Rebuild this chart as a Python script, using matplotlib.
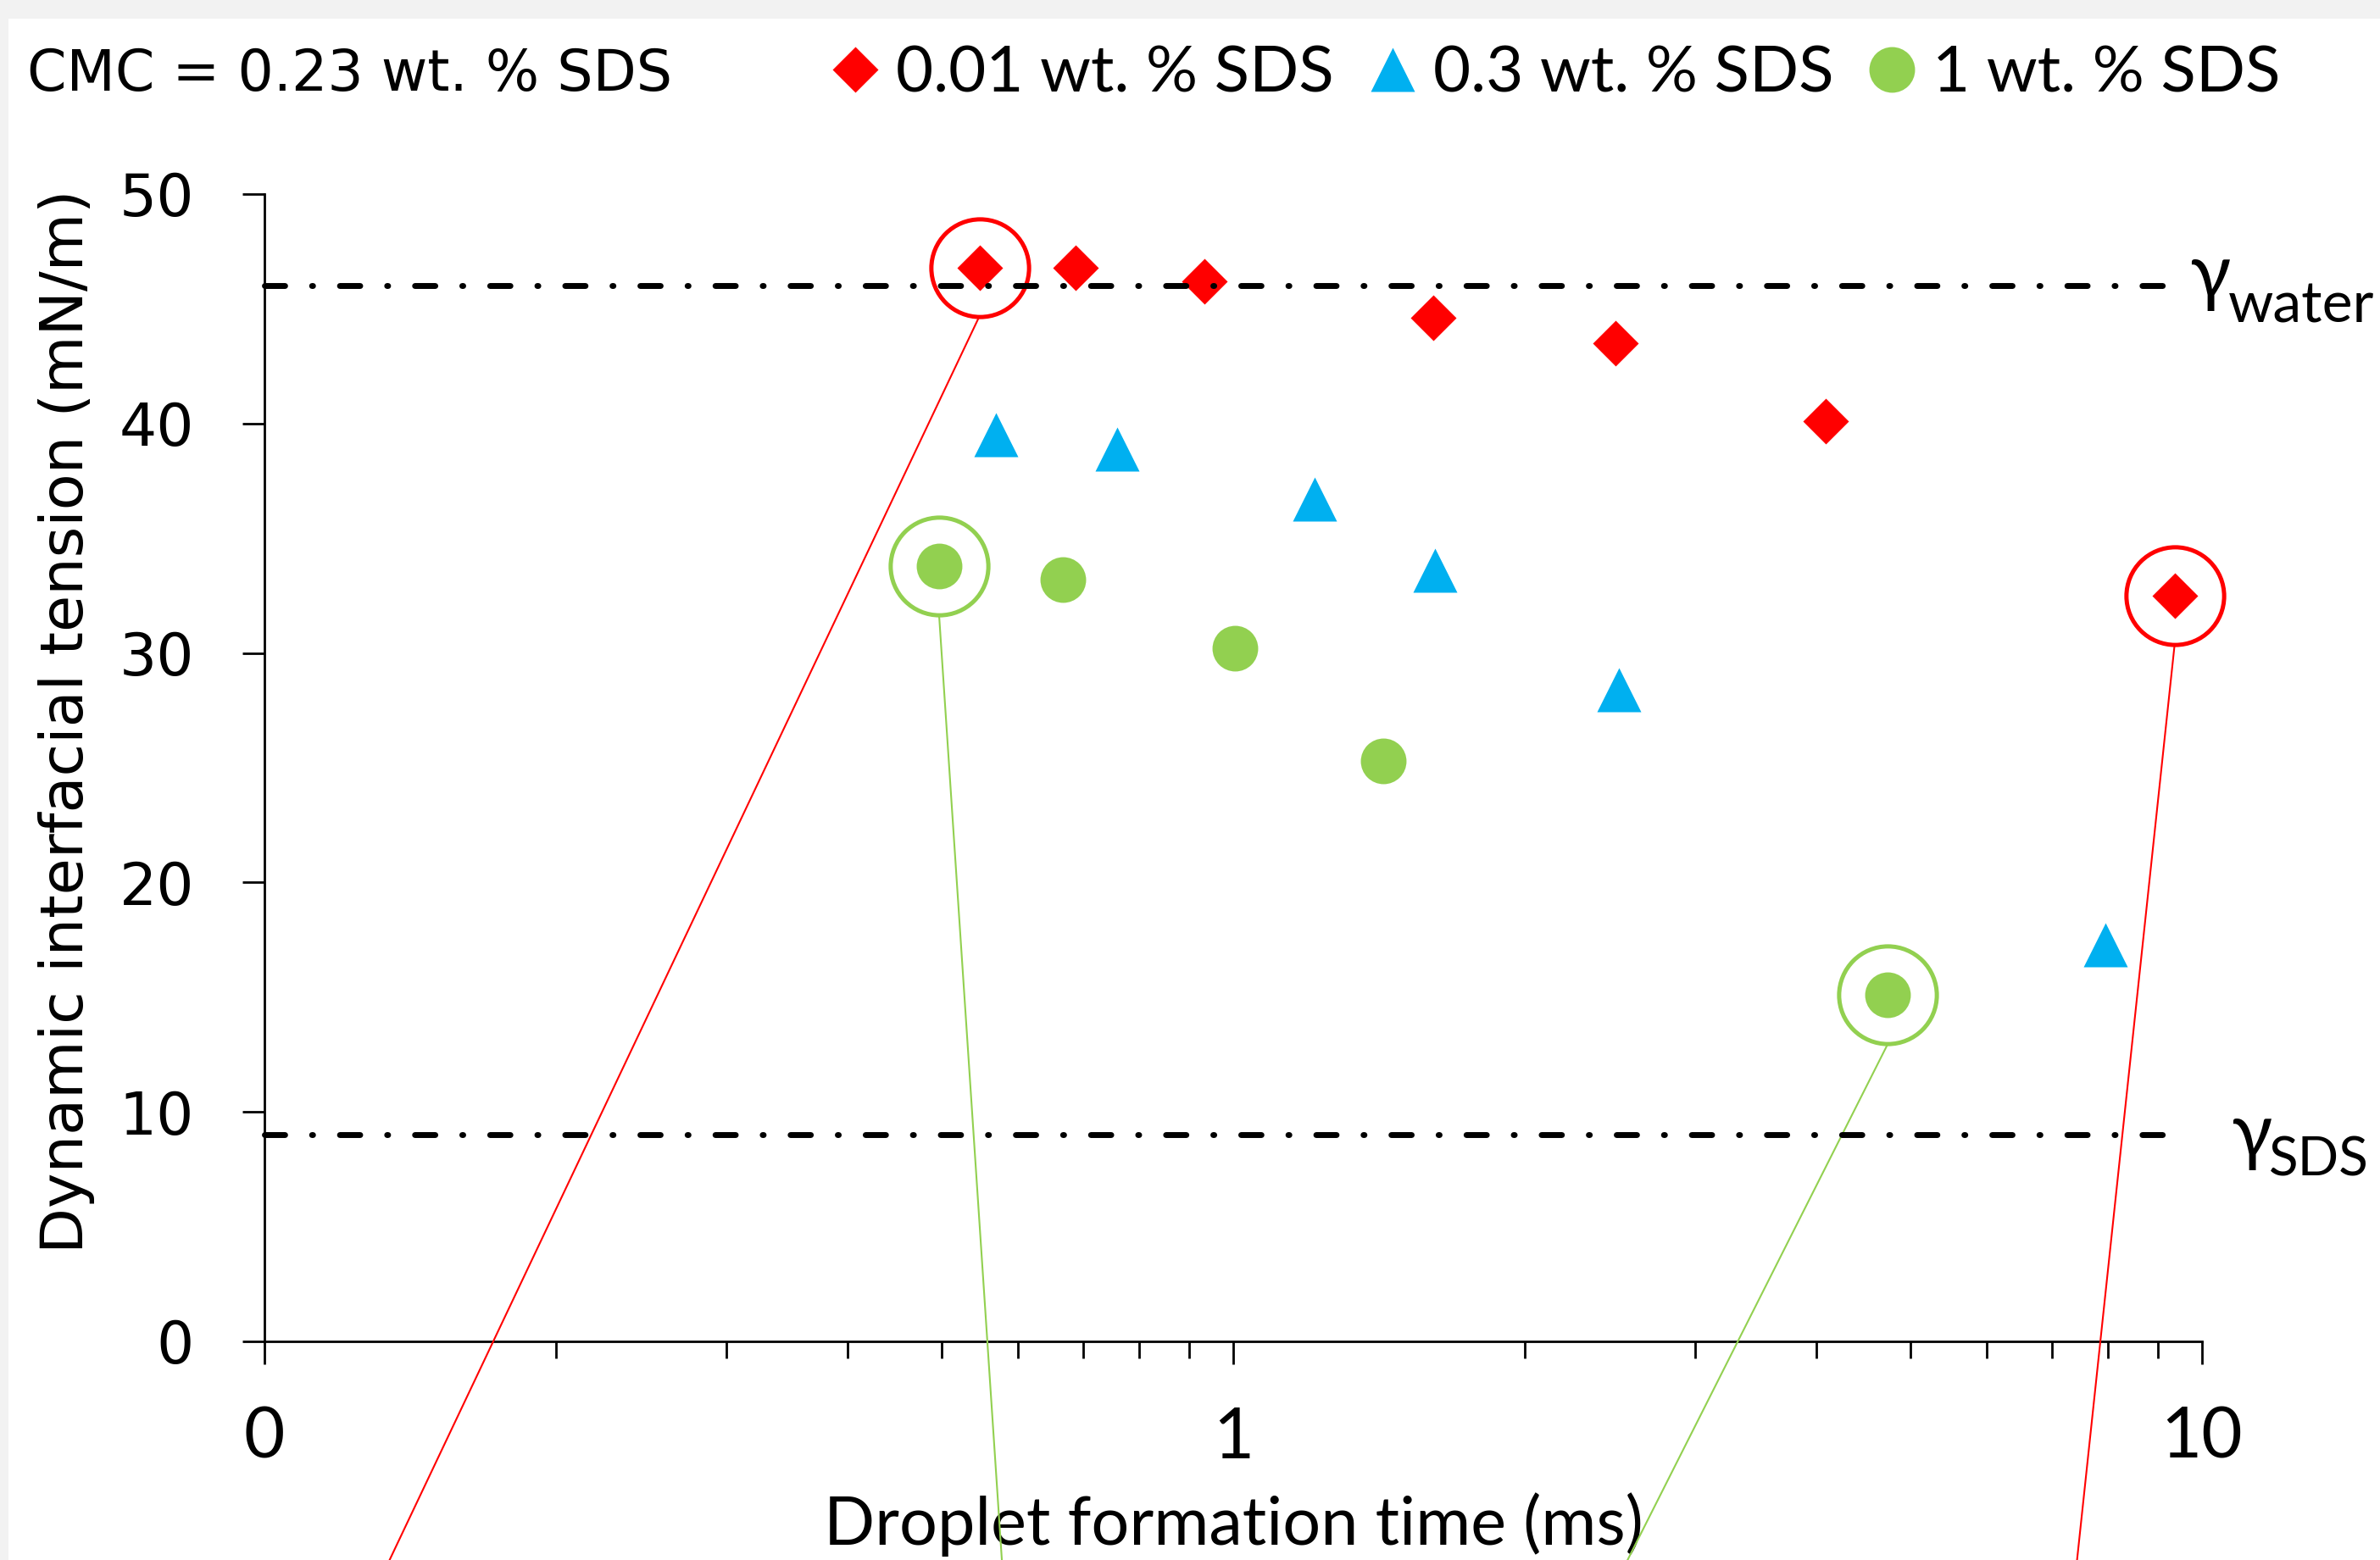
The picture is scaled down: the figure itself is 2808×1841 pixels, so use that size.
import matplotlib
matplotlib.use('Agg')
import matplotlib.pyplot as plt
import matplotlib.ticker as mtick
import matplotlib.transforms as mtrans
from matplotlib.patches import Rectangle

plt.rcParams['lines.scale_dashes'] = False

# values (droplet formation time in ms, tension in mN/m)
t_001 = [0.547, 0.687, 0.933, 1.61, 2.48, 4.09, 9.37]
g_001 = [46.8, 46.8, 46.2, 44.6, 43.5, 40.1, 32.5]
t_03 = [0.569, 0.759, 1.214, 1.615, 2.50, 7.95]
g_03 = [39.5, 38.9, 36.7, 33.6, 28.4, 17.3]
t_1 = [0.497, 0.667, 1.005, 1.427, 4.74]
g_1 = [33.8, 33.2, 30.2, 25.3, 15.1]

labels = ['0.01 wt. % SDS', '0.3 wt. % SDS', '1 wt. % SDS']

gamma_water = 46.0
gamma_sds = 9.0
gamma_line_end = 9.57

# circled points and where their callout lines leave the figure
ring_red_t = [0.547, 9.37]
ring_red_g = [46.8, 32.5]
ring_red_end_t = [0.133, 7.41]
ring_green_t = [0.497, 4.74]
ring_green_g = [33.8, 15.1]
ring_green_end_t = [0.578, 2.52]
callout_end_g = -10

xticks = [0.1, 1, 10]
xticklabels = ['0', '1', '10']
yticks = [0, 10, 20, 30, 40, 50]

RED = '#FF0000'
BLUE = '#00B0F0'
GREEN = '#92D050'
CAL = ['Lato', 'Open Sans', 'DejaVu Sans']   # stand-in for Calibri
VER = ['DejaVu Sans']                        # stand-in for Verdana

W, H = 2808, 1841
fig = plt.figure(figsize=(W / 200, H / 200), dpi=200, facecolor='#f2f2f2')
fig.patches.append(Rectangle((10 / W, 0), 1, 1 - 22 / H, transform=fig.transFigure,
                             facecolor='white', edgecolor='none', zorder=-10))

ax = fig.add_axes([312 / W, 1 - 1583 / H, (2598 - 312) / W, (1583 - 229) / H])
ax.set_facecolor('none')
ax.set_xscale('log')
ax.set_xlim(0.1, 10)
ax.set_ylim(0, 50)

# dash-dot reference lines
dd = (8.6, 11.45, 0.4, 11.45)
for g in [gamma_water, gamma_sds]:
    ax.plot([0.1, gamma_line_end], [g, g], color='black', lw=2.5, dashes=dd,
            dash_capstyle='round', zorder=4, clip_on=False)

l1, = ax.plot(t_001, g_001, ls='none', marker='D', ms=13.5, color=RED, mec='none',
              zorder=3, clip_on=False)
l2, = ax.plot(t_03, g_03, ls='none', marker='^', ms=19, color=BLUE, mec='none',
              zorder=3, clip_on=False)
l3, = ax.plot(t_1, g_1, ls='none', marker='o', ms=19.4, color=GREEN, mec='none',
              zorder=3, clip_on=False)

# rings and callout lines (lines leave from the bottom of each ring)
ring_ms = 41.5
ring_bottom = mtrans.offset_copy(ax.transData, fig=fig, x=0, y=-ring_ms / 2, units='points')
for tt, gg, te, col in [(ring_red_t, ring_red_g, ring_red_end_t, RED),
                        (ring_green_t, ring_green_g, ring_green_end_t, GREEN)]:
    ax.plot(tt, gg, ls='none', marker='o', ms=ring_ms, mfc='none', mec=col, mew=1.8,
            zorder=3, clip_on=False)
    for x0, y0, x1 in zip(tt, gg, te):
        ax.annotate('', xy=(x0, y0), xycoords=ring_bottom,
                    xytext=(x1, callout_end_g), textcoords='data', annotation_clip=False,
                    arrowprops=dict(arrowstyle='-', color=col, lw=0.75,
                                    shrinkA=0, shrinkB=0))

# gamma labels
ax.annotate('γ', xy=(10, gamma_water), xytext=(-5.5, -5.4), textcoords='offset points',
            ha='left', va='baseline', fontsize=32, family=CAL, annotation_clip=False)
ax.annotate('water', xy=(10, gamma_water), xytext=(11.0, -15.5), textcoords='offset points',
            ha='left', va='baseline', fontsize=24.5, family=CAL, annotation_clip=False)
ax.annotate('γ', xy=(10, gamma_sds), xytext=(12.2, -9.5), textcoords='offset points',
            ha='left', va='baseline', fontsize=32, family=CAL, annotation_clip=False)
ax.annotate('SDS', xy=(10, gamma_sds), xytext=(28.5, -17.5), textcoords='offset points',
            ha='left', va='baseline', fontsize=23, family=CAL, annotation_clip=False)

# axes styling
for s in ['top', 'right']:
    ax.spines[s].set_visible(False)
for s in ['left', 'bottom']:
    ax.spines[s].set_linewidth(1.0)

ax.xaxis.set_major_locator(mtick.FixedLocator(xticks))
ax.xaxis.set_major_formatter(mtick.FixedFormatter(xticklabels))
ax.xaxis.set_minor_locator(mtick.LogLocator(base=10, subs=range(2, 10)))
ax.xaxis.set_minor_formatter(mtick.NullFormatter())
ax.set_yticks(yticks)

ax.tick_params(axis='x', which='major', direction='out', length=9.7, width=1.0, pad=18,
               labelsize=30)
ax.tick_params(axis='x', which='minor', direction='out', length=7.2, width=1.0)
ax.tick_params(axis='y', direction='out', length=9.4, width=1.0, pad=20.5, labelsize=25)
for lab in ax.get_xticklabels():
    lab.set_family(CAL)
for lab in ax.get_yticklabels():
    lab.set_family(VER)

ax.set_xlabel('Droplet formation time (ms)', fontsize=28.5, family=CAL)
ax.xaxis.set_label_coords(0.5, (1583 - 1823) / (1583 - 229))
ax.xaxis.label.set_va('baseline')

ax.set_ylabel('Dynamic interfacial tension (mN/m)', fontsize=25.3, family=VER)
ax.yaxis.label.set_rotation_mode('anchor')
ax.yaxis.label.set_va('baseline')
ax.yaxis.set_label_coords((98 - 312) / (2598 - 312), (1583 - 851) / (1583 - 229))

# header: CMC note and legend
fig.text(32 / W, 1 - 107 / H, 'CMC = 0.23 wt. % SDS', fontsize=24, family=VER,
         ha='left', va='baseline')
fig.legend([l1, l2, l3], labels, loc='center left', bbox_to_anchor=(986 / W, 1 - 87 / H),
           ncol=3, frameon=False, prop={'family': CAL, 'size': 27.5},
           handlelength=0.6, handletextpad=0.33, columnspacing=0.6, borderpad=0,
           borderaxespad=0)

fig.savefig('out.png', dpi=200, facecolor=fig.get_facecolor())
